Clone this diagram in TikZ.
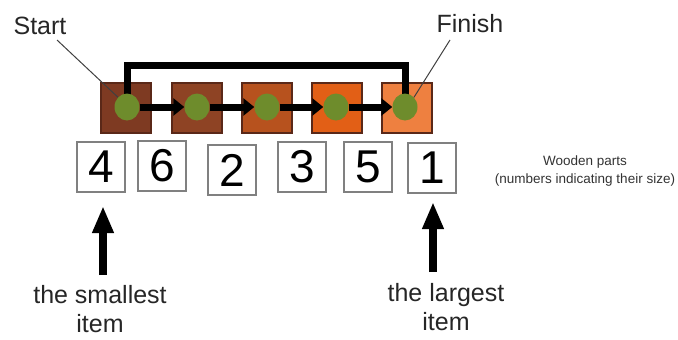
\documentclass[tikz,border=0pt]{standalone}
\usepackage{fontspec}
\setmainfont{Liberation Sans}
\usetikzlibrary{arrows.meta,shapes.geometric}
\definecolor{sqA}{HTML}{7E3A22}
\definecolor{sqB}{HTML}{8E4324}
\definecolor{sqC}{HTML}{B7521E}
\definecolor{sqD}{HTML}{E25F16}
\definecolor{sqE}{HTML}{EE8040}
\definecolor{sqedge}{HTML}{5A2818}
\definecolor{dotgreen}{HTML}{6E8C2C}
\definecolor{boxedge}{HTML}{808080}
\begin{document}
\begin{tikzpicture}[x=1pt,y=-1pt,
  piece/.style={draw=sqedge,line width=1.2pt,minimum width=50pt,minimum height=50pt,inner sep=0pt},
  gdot/.style={fill=dotgreen,ellipse,minimum width=25pt,minimum height=27pt,inner sep=0pt},
  numbox/.style={draw=boxedge,line width=1.3pt,minimum width=48pt,minimum height=50pt,inner sep=0pt,font=\fontsize{46}{46}\selectfont},
  lbl/.style={font=\fontsize{25}{29}\selectfont,inner sep=0pt,text=black!85},
  link/.style={line width=7pt,-{Triangle[length=11pt,width=17pt]}},
  uparrow/.style={line width=8pt,-{Triangle[length=27pt,width=20pt]}},
  leader/.style={draw=black!75,line width=1pt}]
\useasboundingbox (0,0) rectangle (678,340);
% pieces
\node[piece,fill=sqA] (s1) at (126,108) {};
\node[piece,fill=sqB] (s2) at (197,108) {};
\node[piece,fill=sqC] (s3) at (267,108) {};
\node[piece,fill=sqD] (s4) at (337,108) {};
\node[piece,fill=sqE] (s5) at (407,108) {};
% dot anchors
\coordinate (c1) at (127,107);
\coordinate (c2) at (197,107);
\coordinate (c3) at (267,107);
\coordinate (c4) at (336,107);
\coordinate (c5) at (405,107);
% bracket
\coordinate (brk) at (265,65.5);
\draw[line width=7pt,line cap=butt] (c1) -- (c1 |- brk) -- (c5 |- brk) -- (c5);
% dots
\node[gdot] (d1) at (c1) {};
\node[gdot] (d2) at (c2) {};
\node[gdot] (d3) at (c3) {};
\node[gdot] (d4) at (c4) {};
\node[gdot] (d5) at (c5) {};
% links
\draw[link] (d1.east) -- (d2.west);
\draw[link] (d2.east) -- (d3.west);
\draw[link] (d3.east) -- (d4.west);
\draw[link] (d4.east) -- (d5.west);
% labels
\node[lbl] (start) at (40,26) {Start};
\node[lbl] (finish) at (470,24) {Finish};
\draw[leader] (57,40) -- (d1.north west);
\draw[leader] (450,40) -- (d5.north east);
% number boxes
\node[numbox] (b1) at (101,167) {4};
\node[numbox] (b2) at (162,166) {6};
\node[numbox] (b3) at (232,170) {2};
\node[numbox] (b4) at (302,167) {3};
\node[numbox] (b5) at (368,167) {5};
\node[numbox] (b6) at (432,168) {1};
% note
\node[align=center,font=\fontsize{13.5}{18}\selectfont,inner sep=0pt,text=black!80] (note) at (585,171) {Wooden parts\\(numbers indicating their size)};
% bottom labels
\node[lbl,align=center] (small) at (100,309) {the smallest\\item};
\node[lbl,align=center] (large) at (446,307) {the largest\\item};
\coordinate (sa0) at (103,275);
\coordinate (sa1) at (103,206);
\coordinate (la0) at (433,272);
\coordinate (la1) at (433,202);
\draw[uparrow] (sa0) -- (sa1);
\draw[uparrow] (la0) -- (la1);
\end{tikzpicture}
\end{document}
